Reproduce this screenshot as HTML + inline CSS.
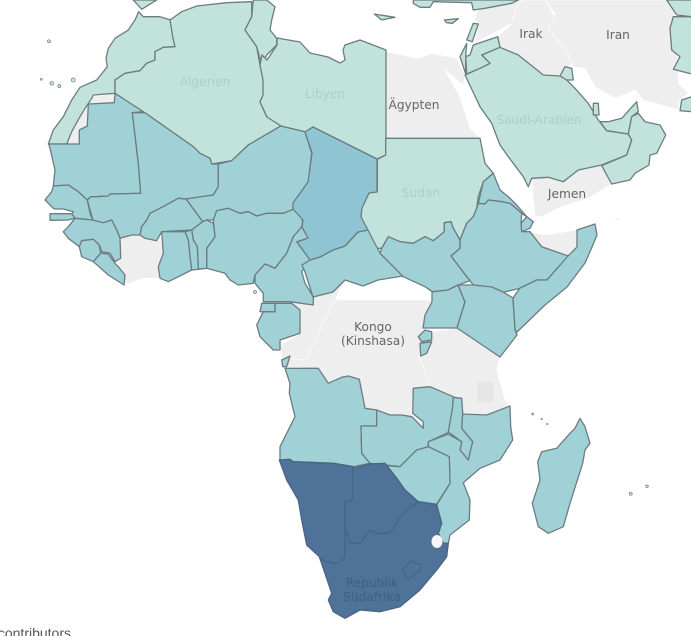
<!DOCTYPE html>
<html><head><meta charset="utf-8"><style>
html,body{margin:0;padding:0;background:#fff;width:691px;height:636px;overflow:hidden}
svg{position:absolute;left:0;top:0}
text{font-family:"DejaVu Sans","Liberation Sans",sans-serif;font-size:12.2px;text-anchor:middle}
</style></head><body>
<svg id="map" width="691" height="636" viewBox="0 0 691 636" xmlns="http://www.w3.org/2000/svg"></svg>
<script>
// Data: region name / value (null = no data, drawn grey)
const countries=["Egypt","Iraq","Iran","Syria","Yemen","Somaliland","Socotra","DR Congo","Congo","Tanzania","Ivory Coast","WS South",
"Morocco","Algeria","Tunisia","Libya","Sudan","Saudi Arabia","Jordan","Israel","Lebanon","Kuwait","UAE","Oman","Qatar","Afghanistan","Turkmenistan","Pakistan","Turkey","Cyprus","Crete","Spain",
"Mauritania","Mali","Niger","Burkina Faso","Nigeria","Benin","Togo","Ghana","Senegal","Guinea Bissau","Guinea","Sierra Leone","Liberia","Cameroon","CAR","Eritrea","Djibouti","Ethiopia","Somalia","South Sudan","Uganda","Kenya","Rwanda","Burundi","Gabon","Eq Guinea","Angola","Cabinda","Zambia","Malawi","Mozambique","Zimbabwe","Madagascar",
"Chad","Namibia","Botswana","South Africa","Lesotho"];
const values=[null,null,null,null,null,null,null,null,null,null,null,null,
10,10,10,10,10,10,10,10,10,10,10,10,10,10,10,10,10,10,10,10,
26,26,26,26,26,26,26,26,26,26,26,26,26,26,26,26,26,26,26,26,26,26,26,26,26,26,26,26,26,26,26,26,26,
33,100,100,100,100];
const scaleDomain=[10,26,33,100];
const scaleColors=[[193,227,220],[160,209,214],[143,197,210],[79,114,153]];

// Map geometry: frame + outline. Frames are enlarged crop spaces of the map.
const frames={r:[0,0,1],a:[0,0,3],b:[345,0,3],c:[230,300,3],d:[400,400,3]};
const outlines={
"Egypt":["b","122,155 220,175 260,160 335,175 360,225 355,255 300,210 345,290 375,385 405,415 122,415"],
"Iraq":["b","500,70 515,20 530,0 600,0 630,50 610,90 660,145 680,190 670,200 645,228 595,225 520,165 465,142 458,110"],
"Iran":["b","600,0 965,0 990,40 975,85 1000,190 1000,250 1030,280 1005,300 1000,330 950,315 895,300 870,270 810,295 750,260 720,205 685,200 660,145 610,90 630,40"],
"Syria":["b","388,130 500,70 515,20 530,0 510,0 400,28 388,60 402,72"],
"Yemen":["b","560,535 610,532 655,545 700,510 770,497 800,552 730,595 650,620 590,650 570,650"],
"Somaliland":["b","555,695 600,705 697,690 697,740 670,768 590,740"],
"Socotra":["b","800,655 828,655 815,662"],
"DR Congo":["c","300,0 610,0 575,100 570,170 600,260 550,265 545,340 580,365 580,385 545,350 515,345 480,345 440,330 405,325 388,240 335,232 295,250 265,205 160,200 155,180 215,170 265,90 295,30"],
"Congo":["r","290,304 313,297 333,292 345,280 335,300 322,325 306,360 282,358 280,345 298,335 300,310"],
"Tanzania":["c","600,95 680,85 810,172 800,210 825,300 840,318 770,345 700,340 670,290 600,260 570,170"],
"Ivory Coast":["a","360,715 395,705 420,705 435,715 470,722 485,722 490,760 475,800 480,835 430,835 375,855 375,825 355,800 360,770"],
"WS South":["a","275,290 343,282 343,308 265,312 262,378 238,390 238,432 200,432 215,395 240,350 262,325"],
"Morocco":["a","416,35 405,60 385,90 345,115 325,145 318,175 322,200 290,240 240,262 215,300 190,350 160,390 145,432 200,432 215,395 240,350 262,315 275,295 280,285 345,280 345,240 375,220 420,212 440,190 465,180 465,155 490,142 525,140 518,110 512,60 480,50 430,50"],
"Algeria":["a","510,60 545,35 590,18 680,8 755,5 755,50 735,90 770,140 780,195 790,240 790,285 780,305 800,350 825,358 842,378 745,435 695,482 635,492 630,475 600,460 580,440 345,280 345,240 375,220 420,212 440,190 465,180 465,155 490,142 525,140 518,110"],
"Tunisia":["a","760,0 800,0 825,20 815,60 810,90 830,115 830,135 800,165 785,195 770,140 735,90 755,50"],
"Libya":["r","277,38 300,42 310,53 328,57 340,63 345,60 343,50 345,45 360,40 386,50 386,155 377,159 345,143 313,127 305,132 281,126 267,117 260,102 263,95 263,80 260,65 262,55 267,60 277,45"],
"Sudan":["b","122,415 405,415 420,490 445,520 415,545 400,590 395,625 385,650 365,670 345,720 325,685 318,665 298,668 298,695 265,722 240,710 205,730 165,725 130,710 110,745 90,745 68,695 48,650 50,625 72,578 97,575 97,478 122,465"],
"Saudi Arabia":["b","360,225 405,205 435,190 410,165 465,142 520,165 595,225 645,228 665,240 690,265 730,310 760,360 785,392 850,402 860,420 845,465 770,495 700,510 655,545 610,532 560,535 550,560 535,530 490,470 465,435 440,370 405,320"],
"Jordan":["b","365,222 405,205 435,190 410,165 465,142 458,110 385,135 375,165 362,170"],
"Israel":["b","345,170 365,130 362,170 362,222"],
"Lebanon":["b","385,70 400,72 382,125 365,120"],
"Kuwait":["b","645,228 660,200 680,205 685,240 665,240"],
"UAE":["b","765,365 790,365 830,355 875,305 880,335 860,350 850,402 785,392"],
"Oman":["b","880,340 900,365 945,375 962,405 935,460 915,465 912,495 870,520 855,540 800,552 770,497 845,465 860,420 850,402 860,350"],
"Qatar":["b","745,310 760,310 762,345 745,345"],
"Afghanistan":["b","985,50 1040,50 1040,222 985,208 1005,170 980,150 975,85"],
"Turkmenistan":["b","965,0 1040,0 1040,50 995,45"],
"Pakistan":["b","1005,332 1010,300 1040,290 1040,335"],
"Turkey":["b","205,0 520,0 500,10 420,25 385,30 380,8 265,5 255,22 225,22 205,10"],
"Cyprus":["b","298,60 340,56 322,70 305,68"],
"Crete":["b","88,42 150,52 110,60"],
"Spain":["a","400,0 470,0 425,28"],
"Mauritania":["a","146,432 238,432 238,390 262,378 265,312 343,308 345,280 430,335 397,338 415,490 422,580 330,582 325,588 290,590 272,590 262,600 235,575 205,555 160,558 165,510 158,480 150,445"],
"Mali":["a","397,338 435,338 580,440 600,460 630,475 635,492 655,492 655,560 640,585 558,597 535,595 480,625 450,640 440,660 425,680 420,705 395,705 360,715 350,690 335,660 310,668 280,665 262,600 272,590 290,590 325,588 330,582 422,580 415,490"],
"Niger":["a","842,378 915,395 935,460 925,545 880,610 880,628 850,640 800,640 770,648 745,635 720,640 685,625 650,632 640,660 620,660 608,665 558,597 640,585 655,560 655,492 695,482 745,435"],
"Burkina Faso":["a","558,597 608,665 575,690 485,695 470,722 435,715 420,705 425,680 440,660 450,640 480,625 535,595"],
"Nigeria":["a","640,660 650,632 685,625 720,640 745,635 770,648 800,640 850,640 880,628 905,650 910,680 880,710 860,760 825,805 795,792 765,825 760,850 715,855 690,840 675,820 620,805 620,745 645,710"],
"Benin":["a","608,665 620,660 640,670 645,710 620,745 620,805 595,808 592,740 580,720 575,690"],
"Togo":["a","555,695 575,690 580,720 592,740 595,808 575,810 570,770 565,720"],
"Ghana":["a","485,695 555,695 565,720 570,770 575,810 505,845 480,835 475,800 490,760"],
"Senegal":["a","160,558 205,555 235,575 262,600 270,640 278,660 225,655 215,642 220,635 190,627 165,627 160,625 135,600 155,575"],
"Guinea Bissau":["a","150,641 215,641 225,655 205,660 150,661"],
"Guinea":["a","225,655 278,660 310,668 335,660 350,690 360,715 362,775 345,785 330,760 305,755 298,735 280,718 245,722 238,740 205,715 190,695 205,680"],
"Sierra Leone":["a","238,740 245,722 280,718 298,735 302,760 280,785 245,770"],
"Liberia":["a","280,785 302,760 325,762 345,790 355,800 375,825 372,855 325,825"],
"Cameroon":["a","910,660 905,680 925,715 890,725 930,778 905,815 915,850 940,890 940,915 870,905 790,905 790,880 765,850 765,825 795,792 825,805 860,760 880,710 905,680"],
"CAR":["r","310,260 320,257 333,250 345,246 358,232 368,230 373,240 380,253 403,276 378,280 363,286 345,280 333,292 313,297 305,272 302,265"],
"Eritrea":["b","415,545 445,520 465,570 490,590 515,615 545,650 530,640 495,610 470,605 430,600 420,612 400,610"],
"Djibouti":["b","545,650 565,665 555,685 530,695 528,670"],
"Ethiopia":["b","400,610 420,612 430,600 470,605 495,610 530,640 528,670 530,695 555,695 590,740 670,768 605,840 575,840 525,865 475,877 440,862 385,855 365,830 318,768 345,745 345,720 365,670 385,650 395,625"],
"Somalia":["r","577,230 595,224 597,235 592,247 585,263 567,287 545,305 517,332 515,330 513,300 513,298 520,288 537,280 547,280 568,256 577,247"],
"South Sudan":["b","110,745 130,710 165,725 205,730 240,710 265,722 298,695 298,668 318,665 325,685 345,720 345,745 318,768 365,830 375,842 340,855 310,870 262,875 240,860 175,830 105,760"],
"Uganda":["r","432,292 448,290 458,285 465,302 457,328 423,328 425,315 432,302"],
"Kenya":["r","458,285 473,285 492,287 503,292 513,298 513,300 515,330 517,335 500,357 457,328 465,302"],
"Rwanda":["c","565,110 585,90 605,95 605,120 575,125"],
"Burundi":["c","570,130 605,125 590,160 572,168"],
"Gabon":["c","80,75 100,35 135,35 135,10 185,10 210,30 210,100 150,120 150,150 130,150 90,110"],
"Eq Guinea":["c","95,10 135,10 135,35 90,35"],
"Angola":["c","165,205 265,205 295,250 335,232 355,228 388,238 405,325 440,330 440,378 393,378 395,460 420,490 370,500 310,490 190,485 150,480 150,440 195,350 178,280 180,250"],
"Cabinda":["c","155,180 180,168 170,200 158,200"],
"Zambia":["c","440,330 480,345 515,345 545,350 580,385 580,365 548,340 550,265 600,260 670,290 668,320 660,395 595,425 595,440 560,450 510,500 470,495 420,490 395,460 393,378 440,378"],
"Malawi":["c","670,292 695,295 698,340 695,385 728,425 715,480 690,450 695,425 660,400 655,395 668,320"],
"Mozambique":["c","698,342 770,345 840,318 842,380 848,420 810,480 750,505 700,548 720,600 718,660 660,705 655,730 640,730 625,700 635,670 620,615 660,550 658,470 595,440 595,425 655,402 695,425 690,450 715,480 728,425 695,385"],
"Zimbabwe":["c","470,497 510,500 560,450 595,440 658,470 660,550 620,612 565,605 525,570 500,535"],
"Madagascar":["d","540,55 555,80 570,130 555,150 548,190 510,310 490,380 445,400 415,380 397,310 420,240 413,185 425,155 470,145 510,100 525,85"],
"Chad":["r","313,127 345,143 377,159 377,192 369,193 362,208 361,217 368,230 358,232 345,246 333,250 320,257 310,260 297,242 308,238 302,227 303,220 293,209 293,203 308,182 312,153 305,132"],
"Namibia":["c","148,480 180,478 190,485 310,490 370,500 368,505 368,600 345,605 345,775 320,790 285,785 268,770 230,735 215,660 205,600 170,540"],
"Botswana":["c","368,505 420,492 465,490 500,535 525,570 565,605 530,630 505,660 480,700 440,700 420,690 390,730 360,730 345,680 345,605 368,600"],
"South Africa":["c","620,615 635,670 625,700 640,730 655,730 650,770 620,810 570,870 510,920 450,935 390,930 345,955 310,935 295,900 305,880 268,770 285,785 320,790 345,775 345,680 360,730 390,730 420,690 440,700 480,700 505,660 530,630 565,605"],
"Lesotho":["c","515,810 545,782 572,795 572,810 535,838"]
};
const labelTexts=["Algerien","Libyen","Ägypten","Saudi-Arabien","Sudan","Jemen","Irak","Iran","Kongo","(Kinshasa)","Republik","Südafrika"];
const labelSpots=[[205,86,"#a9d0ca"],[325,98,"#a9d0ca"],[414,109,"#666666"],[539,124,"#a9d0ca"],[421,197,"#a9d0ca"],[567,198,"#666666"],[531,38,"#666666"],[618,39,"#666666"],[373,331,"#666666"],[373,345,"#666666"],[372,587,"#3f5f83"],[372,601,"#3f5f83"]];
const islets=[["d",398,42,2],["d",425,57,1.4],["d",442,72,1.4],["d",692,281,3],["d",741,259,2.5],["a",147,124,3],["a",155,250,3.5],["a",178,258,3],["a",124,238,2],["a",220,240,4],["a",765,876,3]];

const NS="http://www.w3.org/2000/svg";
const svg=document.getElementById("map");
function colorFor(v){
  if(v===null)return "#eeeeee";
  let i=0;
  while(i<scaleDomain.length-2&&v>scaleDomain[i+1])i++;
  const t=Math.max(0,Math.min(1,(v-scaleDomain[i])/(scaleDomain[i+1]-scaleDomain[i])));
  const c=scaleColors[i].map((a,k)=>Math.round(a+(scaleColors[i+1][k]-a)*t));
  return "rgb("+c.join(",")+")";
}
function toPx(frame,x,y){const f=frames[frame];return [(f[0]+x/f[2]).toFixed(1),(f[1]+y/f[2]).toFixed(1)];}
countries.forEach(function(name,i){
  const o=outlines[name];
  const pts=o[1].split(" ").map(function(p){const q=p.split(",");return toPx(o[0],+q[0],+q[1]).join(",");}).join(" ");
  const el=document.createElementNS(NS,"polygon");
  el.setAttribute("points",pts);
  el.setAttribute("fill",colorFor(values[i]));
  const none=values[i]===null;
  el.setAttribute("stroke",none?"#ffffff":(values[i]>=100?"#4a6484":"#6c7c80"));
  el.setAttribute("stroke-width",none?"0.6":"1.3");
  el.setAttribute("stroke-linejoin","round");
  
  
  svg.appendChild(el);
});
islets.forEach(function(s){
  const p=toPx(s[0],s[1],s[2]);
  const el=document.createElementNS(NS,"circle");
  el.setAttribute("cx",p[0]);
  el.setAttribute("cy",p[1]);
  el.setAttribute("r",(s[3]/2).toFixed(1));
  el.setAttribute("fill","#cfe6e4");
  el.setAttribute("stroke","#6c7c80");
  el.setAttribute("stroke-width","0.7");
  
  
  svg.appendChild(el);
});
const sw=document.createElementNS(NS,"ellipse");
sw.setAttribute("cx","437");
sw.setAttribute("cy","541.5");
sw.setAttribute("rx","5.5");
sw.setAttribute("ry","6.5");
sw.setAttribute("fill","#f6f6f6");


svg.appendChild(sw);
const pa=document.createElementNS(NS,"rect");
pa.setAttribute("x","477");
pa.setAttribute("y","382");
pa.setAttribute("width","16");
pa.setAttribute("height","20");
pa.setAttribute("fill","#e6e6e6");


svg.appendChild(pa);
labelTexts.forEach(function(t,i){
  const el=document.createElementNS(NS,"text");
  el.setAttribute("x",labelSpots[i][0]);
  el.setAttribute("y",labelSpots[i][1]);
  el.setAttribute("fill",labelSpots[i][2]);
  el.textContent=t;
  
  
  svg.appendChild(el);
});
const credit=document.createElementNS(NS,"text");
credit.setAttribute("x","71");
credit.setAttribute("y","638");
credit.setAttribute("fill","#555555");
credit.setAttribute("style","text-anchor:end;font-family:'Liberation Sans',sans-serif;font-size:14px");
credit.textContent="© OpenStreetMap contributors";


svg.appendChild(credit);
</script>
</body></html>
